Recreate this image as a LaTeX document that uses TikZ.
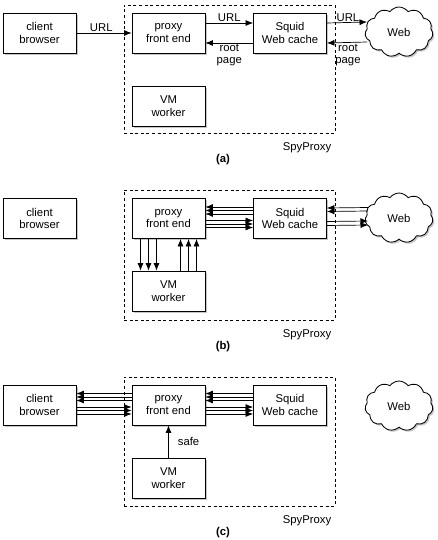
\documentclass[tikz,border=0pt]{standalone}
\usepackage{fontspec}
\setmainfont{Liberation Sans}
\usetikzlibrary{shapes.symbols,shadows,arrows.meta}
\begin{document}
\begin{tikzpicture}[x=1pt,y=-1pt,
  font=\fontsize{11.3}{12.8}\selectfont,
  box/.style={draw,line width=0.85pt,fill=white,minimum width=73pt,minimum height=40pt,align=center,inner sep=1pt,
    drop shadow={shadow xshift=1.6pt,shadow yshift=-1.6pt,opacity=0.45}},
  web/.style={cloud,draw,line width=0.85pt,fill=white,cloud puffs=11,cloud puff arc=110,aspect=1.45,minimum width=68pt,minimum height=50pt,inner sep=0pt,
    drop shadow={shadow xshift=1.6pt,shadow yshift=-1.6pt,opacity=0.45}},
  frame/.style={draw,line width=0.85pt,dash pattern=on 3pt off 2.6pt},
  arr/.style={-{Latex[length=7.5pt,width=6pt]},line width=0.7pt},
  lbl/.style={inner sep=1pt,align=center,font=\fontsize{11.3}{12}\selectfont},
  captxt/.style={font=\fontsize{11.3}{12}\selectfont\bfseries}]
\useasboundingbox (0,0) rectangle (437,540);

% ---------------- (a)
\node[frame,minimum width=211pt,minimum height=128pt,inner sep=0pt] (fa) at (229.5,69) {};
\node (ca) [box] at (39.5,33) {client\\browser};
\node (pa) [box] at (168.5,33) {proxy\\front end};
\node (va) [box] at (168.5,106) {VM\\worker};
\node (sa) [box] at (290,33) {Squid\\Web cache};
\node (wa) [web] at (399,32) {Web};
\draw[arr] (ca.east) -- node[lbl,above,pos=0.45] {URL} (pa.west);
\draw[arr] ([yshift=10pt]pa.east) -- node[lbl,above] {URL} ([yshift=10pt]sa.west);
\draw[arr] ([yshift=-10pt]sa.west) -- node[lbl,below] {root\\page} ([yshift=-10pt]pa.east);
\coordinate (wai) at ([yshift=10pt]wa.west);
\coordinate (wao) at ([yshift=-10pt]wa.west);
\draw[arr] ([yshift=10pt]sa.east) -- node[lbl,above,xshift=1pt] {URL} ([xshift=2pt]wai);
\draw[arr] ([xshift=2pt]wao) -- node[lbl,below,xshift=1pt] {root\\page} ([yshift=-10pt]sa.east);
\node[lbl] (spa) at (307,148) {SpyProxy};
\node[captxt] (capa) at (223,160) {(a)};

% ---------------- (b)
\begin{scope}[shift={(0,185)}]
\node[frame,minimum width=211pt,minimum height=130pt,inner sep=0pt] (fb) at (229.5,70) {};
\node (cb) [box] at (39.5,33.5) {client\\browser};
\node (pb) [box] at (168.5,33.5) {proxy\\front end};
\node (vb) [box] at (168.5,106) {VM\\worker};
\node (sb) [box] at (290,33.5) {Squid\\Web cache};
\node (wb) [web] at (399,33) {Web};
\foreach \d in {11.5,8,4.5}
  \draw[arr] ([yshift=\d pt]sb.west) -- ([yshift=\d pt]pb.east);
\foreach \d in {-2,-5.5,-9}
  \draw[arr] ([yshift=\d pt]pb.east) -- ([yshift=\d pt]sb.west);
\foreach \d in {10.5,7}
  \draw[arr] ([yshift=\d pt,xshift=3pt]wb.west) -- ([yshift=\d pt]sb.east);
\foreach \d in {-3,-7}
  \draw[arr] ([yshift=\d pt]sb.east) -- ([yshift=\d pt,xshift=3pt]wb.west);
\foreach \d in {-28,-20,-12}
  \draw[arr] ([xshift=\d pt]pb.south) -- ([xshift=\d pt]vb.north);
\foreach \d in {12,20,28}
  \draw[arr] ([xshift=\d pt]vb.north) -- ([xshift=\d pt]pb.south);
\node[lbl] (spb) at (307,150) {SpyProxy};
\node[captxt] (capb) at (223,162) {(b)};
\end{scope}

% ---------------- (c)
\begin{scope}[shift={(0,372)}]
\node[frame,minimum width=211pt,minimum height=129pt,inner sep=0pt] (fc) at (229.5,69.5) {};
\node (cc) [box] at (39.5,33) {client\\browser};
\node (pc) [box] at (168.5,33) {proxy\\front end};
\node (vc) [box] at (168.5,106) {VM\\worker};
\node (sc) [box] at (290,33) {Squid\\Web cache};
\node (wc) [web] at (399,34) {Web};
\foreach \d in {11.5,8,4.5}
  \draw[arr] ([yshift=\d pt]pc.west) -- ([yshift=\d pt]cc.east);
\foreach \d in {-2,-5.5,-9}
  \draw[arr] ([yshift=\d pt]cc.east) -- ([yshift=\d pt]pc.west);
\foreach \d in {11.5,8,4.5}
  \draw[arr] ([yshift=\d pt]sc.west) -- ([yshift=\d pt]pc.east);
\foreach \d in {-2,-5.5,-9}
  \draw[arr] ([yshift=\d pt]pc.east) -- ([yshift=\d pt]sc.west);
\draw[arr] (vc.north) -- node[lbl,right=8pt] {safe} (pc.south);
\node[lbl] (spc) at (307,149) {SpyProxy};
\node[captxt] (capc) at (223,161) {(c)};
\end{scope}
\end{tikzpicture}
\end{document}
